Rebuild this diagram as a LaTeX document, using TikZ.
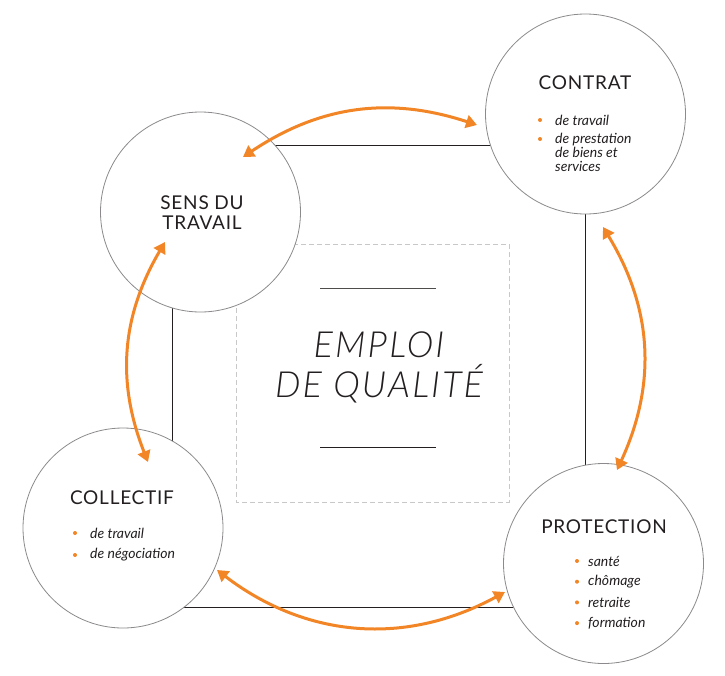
\documentclass[tikz,border=0pt]{standalone}
\usepackage{fontspec}
\setmainfont{Lato}
\newfontfamily\thinfont{Lato Light Italic}[LetterSpace=6]
\newfontfamily\titlefont{Lato}[LetterSpace=4]
\usepackage{tikz}
\usetikzlibrary{arrows.meta,calc}
\usepackage{xcolor}
\definecolor{arroworange}{RGB}{242,133,38}
\definecolor{circlegrey}{RGB}{140,138,140}
\definecolor{dashgrey}{RGB}{200,200,200}
\definecolor{textdark}{RGB}{35,31,32}

\begin{document}
\begin{tikzpicture}[
    x=1pt, y=-1pt,
    bubble/.style={circle, draw=circlegrey, line width=0.8pt, fill=white, minimum size=200pt, inner sep=0pt},
    title/.style={font=\fontsize{19}{20}\selectfont\titlefont, text=textdark, align=center, inner sep=0pt},
    item/.style={font=\fontsize{14}{14}\selectfont\itshape, text=textdark, anchor=west, inner sep=0pt, align=left},
    dot/.style={fill=arroworange},
    link/.style={<->, arroworange, line width=3pt, >={Triangle[width=13pt,length=11pt]}},
]
    \useasboundingbox (0,0) rectangle (725,675);

    % Frame behind the circles
    \draw[line width=1pt, textdark] (172,145) rectangle (585,607);
    \draw[dashgrey, line width=0.9pt, dash pattern=on 5pt off 3pt] (236,244) rectangle (509,502);

    % Centre
    \draw[line width=0.8pt, textdark!80] (320,288) -- (436,288);
    \draw[line width=0.8pt, textdark] (320,447) -- (436,447);
    \node[font=\fontsize{36}{40}\selectfont\thinfont, text=textdark, align=center] (emploi) at (379,367) {EMPLOI\\DE QUALIT\'E};

    % Circles
    \node[bubble] (contrat) at (585.5,114) {};
    \node[bubble] (sens) at (200.5,212) {};
    \node[bubble] (collectif) at (123,528) {};
    \node[bubble] (protection) at (603.5,563.5) {};

    % Titles
    \node[title] (contrat-t) at (585,83) {CONTRAT};
    \node[title] (sens-t) at (202,213) {SENS DU\\TRAVAIL};
    \node[title] (collectif-t) at (122,498) {COLLECTIF};
    \node[title] (protection-t) at (604,527) {PROTECTION};

    % Contrat items
    \fill[dot] (540,120) circle (2);
    \node[item] (contrat-1) at (555,120) {de travail};
    \fill[dot] (540,139) circle (2);
    \node[item, anchor=north west] (contrat-2) at (555,132.5) {de prestation\\de biens et\\services};

    % Collectif items
    \foreach \t [count=\k] in {de travail, de n\'egociation} {
        \fill[dot] (75,511+\k*22) circle (2);
        \node[item] (collectif-\k) at (90,511+\k*22) {\t};
    }

    % Protection items
    \foreach \t [count=\k] in {sant\'e, ch\^omage, retraite, formation} {
        \fill[dot] (577,540.3+\k*20.7) circle (2);
        \node[item] (protection-\k) at (588,540.3+\k*20.7) {\t};
    }

    % Arrow ends
    \coordinate (sens-ne) at (243,157);
    \coordinate (sens-s) at (165,242);
    \coordinate (contrat-w) at (477,125);
    \coordinate (contrat-s) at (603,227);
    \coordinate (protection-n) at (617,470);
    \coordinate (protection-w) at (505,592);
    \coordinate (collectif-e) at (217,570);
    \coordinate (collectif-n) at (148,462);

    % Arrows
    \draw[link] (sens-ne) to[bend left=26] (contrat-w);
    \draw[link] (contrat-s) to[bend left=28] (protection-n);
    \draw[link] (protection-w) to[bend left=33] (collectif-e);
    \draw[link] (collectif-n) to[bend left=26] (sens-s);
\end{tikzpicture}
\end{document}
